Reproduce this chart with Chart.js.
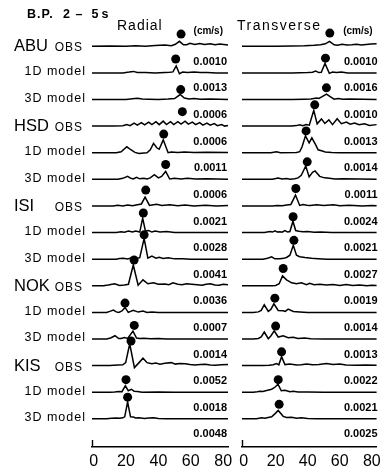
<!DOCTYPE html>
<html>
<head>
<meta charset="utf-8">
<script src="https://cdn.jsdelivr.net/npm/chart.js@4.4.1/dist/chart.umd.min.js"></script>
<style>
  html, body { margin: 0; background: #fff; }
  #wrap { position: relative; width: 386px; height: 470px; }
  #wrap canvas { position: absolute; left: 0; top: 0; }
</style>
</head>
<body>
<div id="wrap">
  <canvas id="radial" width="386" height="470"></canvas>
  <canvas id="transverse" width="386" height="470"></canvas>
</div>
<script>
const stations = ['ABU', 'HSD', 'ISI', 'NOK', 'KIS']
const models = ['OBS', '1D model', '3D model']
const timeTicks = [0, 20, 40, 60, 80]
const ampUnit = '(cm/s)'

// max amplitude printed under each trace
const radialMaxAmp = ['0.0010', '0.0013', '0.0006', '0.0006', '0.0011', '0.0006', '0.0021', '0.0028',
  '0.0041', '0.0036', '0.0007', '0.0014', '0.0052', '0.0018', '0.0048']
const transverseMaxAmp = ['0.0010', '0.0016', '0.0010', '0.0013', '0.0014', '0.0011', '0.0024', '0.0021',
  '0.0027', '0.0019', '0.0014', '0.0013', '0.0022', '0.0021', '0.0025']

// picked arrivals (time s, height above trace)
const radialPickT = [54, 50.7, 53.8, 54.8, 43.3, 44.5, 32.2, 30.7, 31.2, 25, 19.4, 25.1, 23.1, 20, 21]
const radialPickH = [12.3, 14, 10, 14.6, 18.8, 15, 16, 19.8, 24.6, 26, 9.4, 13.7, 24.9, 12.7, 21.9]
const transversePickT = [53.8, 51.1, 51.7, 44.4, 39, 39.7, 32.6, 30.9, 31.4, 24.7, 19.5, 20, 23.7, 21.6, 22.2]
const transversePickH = [13.3, 14.9, 11.8, 21.5, 22, 17.7, 17.6, 16, 19, 17.5, 14.4, 13, 13.9, 12.7, 14.6]

// traces: [time s, amplitude]
const rABUobs = [[-1,0],[10,0.3],[20,0],[26,0.6],[32,0],[38,0.8],[44,1.3],[48,0.6],[50.5,2],[53,5],[55.5,1.5],[57.5,1.5],[59.5,3],[62.5,1.8],[65.5,2.8],[68.5,1.7],[72,2.6],[75,1.5],[78,2.2],[83,1.3]]
const rABU1d = [[-1,0],[18,0],[22,0.8],[24.5,1.5],[27,0.3],[32,0.5],[38,0],[44,0.5],[47,0.7],[49,1],[51,7],[53,-0.8],[55,0.8],[58,0.3],[62,1],[66,0.3],[70,0.5],[76,0],[83,0]]
const rABU3d = [[-1,0],[20,0],[24,0.8],[27,1.3],[30,0.5],[34,0.3],[40,0],[46,0.5],[50,1],[53.5,5],[56,1.5],[59,0.5],[62,1],[66,0.3],[72,0.6],[83,0]]
const rHSDobs = [[-1,0],[12,0],[18,0.3],[20.5,1.5],[22.5,0.5],[25,3],[27,1],[29.5,3.5],[31.5,1.2],[34,4],[36,1.5],[38.5,4.5],[40.5,1.5],[43,5],[45,1.5],[47.5,4.5],[49.5,1.5],[52,4.5],[54,2],[56.5,5],[58.5,2],[61,4],[63,1.5],[65.5,3.5],[67.5,1],[70,3],[72,1],[74.5,2.5],[76.5,0.5],[79,1.5],[81,0],[83,0.5]]
const rHSD1d = [[-1,0],[14,0],[17,1],[20.5,6],[23,3],[25.5,0.3],[28,-0.7],[31,-0.3],[33,0],[35,3],[37,9.5],[39,5],[40.5,3.5],[43,13],[46,0],[48,0.8],[52,0.2],[56,0.8],[62,0.3],[70,0.6],[83,0.3]]
const rHSD3d = [[-1,0],[15,0],[18,1],[21,3],[23,1],[24.5,0.3],[26.5,2],[28.5,0.5],[31,1],[33,0.3],[35,1.5],[37.5,4.7],[40,1.5],[42,3],[44.5,8],[47,0.3],[50,1],[54,0.3],[58,1],[63,0.3],[70,0.5],[83,0]]
const rISIobs = [[-1,0],[12,0],[15,0.8],[18,0],[21,1],[24,0.3],[27,1.2],[29.5,2],[31.8,9],[34.5,0.5],[36,1],[39,1.8],[42,0.5],[47,1.3],[52,0.3],[56.5,1],[62,0],[69,0.8],[76,0],[83,0.5]]
const rISI1d = [[-1,0],[14,0],[17,0.8],[19,0.3],[21.5,1.5],[24,0.5],[26,1.5],[28.5,0.5],[30.3,14.5],[32,1.5],[34,2],[36,0.5],[38,1.5],[41,0.5],[45,1],[50,0],[83,0]]
const rISI3d = [[-1,0],[14,0],[16,0.7],[18.5,1],[21,0.3],[23.5,1.3],[26,0.5],[28.5,1.5],[31.2,21],[33.5,1],[36,3],[38.5,1],[40.5,2],[43,0.8],[46,1.5],[50,0.3],[55,0.5],[60,0],[83,0]]
const rNOKobs = [[-1,0],[6,0],[9,0.7],[13,2],[16,0.3],[19,0.8],[21.5,1.5],[24.5,21],[27.5,0.5],[30.5,6],[33.5,2],[37,3],[40,1.5],[44,1.8],[46.5,1],[49,3],[52,1.5],[54.5,1],[57.5,2],[60.5,1.5],[64,1],[67,0.5],[69.5,1.5],[72,2],[75,0.8],[77.5,0.5],[80,1.5],[83,1]]
const rNOK1d = [[-1,0],[8,0],[10,1],[12.2,2.3],[14,0.5],[15.5,0],[17.5,1.5],[19.4,5],[21.4,0],[24.5,2],[27.5,0.3],[30.5,1.3],[33,0],[36,0.5],[40,0],[83,0]]
const rNOK3d = [[-1,0],[8,0],[10.5,1],[13.2,3.3],[15.5,0.5],[17,0.5],[19,1.5],[21,0.5],[24.3,8],[26.5,1],[28.5,0.5],[31,0.8],[35,0.3],[40,0.5],[45,0],[83,0]]
const rKISobs = [[-1,0],[10,0],[15,0.5],[18,0.8],[19.8,3],[22.3,22],[25.2,-2],[27.5,2],[30.5,7.5],[33,3],[36,2],[38.5,2.5],[41,1.5],[44,2.3],[48,3],[50.5,1.5],[53,2],[56.5,1.8],[59.5,1],[62.5,0.5],[66,1],[69,1.3],[72,0.5],[75,0.3],[79,0.8],[83,1]]
const rKIS1d = [[-1,0],[10,0],[13,0.3],[15.5,0.8],[17.5,0.5],[19.6,6.5],[21.4,1.5],[23.3,3],[25,1],[27,0.8],[30,0],[40,0.3],[50,0],[83,0]]
const rKIS3d = [[-1,0],[8,0],[11,0.5],[14,0.8],[16,0.5],[18,1],[19.2,2],[21,17],[22.8,2],[24.5,1.8],[26,0.8],[28,1.2],[31.5,0.3],[34,0.8],[37,1],[40,0.3],[45,0],[83,0]]

const tABUobs = [[-1,0],[20,0],[30,0.3],[38,0.5],[44,1],[48,1.5],[51,2.5],[53.6,5],[56.5,1.5],[58.5,1],[61.5,2],[64.5,1.2],[67.5,1.5],[70.5,2],[73.5,1.2],[76.5,1.8],[79.5,2.3],[83,2.5]]
const tABU1d = [[-1,0],[30,0],[40,0.3],[43,0.7],[45,1.8],[47,0.3],[48.5,0.5],[50.8,9.5],[53.5,-0.5],[55.5,0.8],[58,0.5],[61,1],[65,0],[83,0]]
const tABU3d = [[-1,0],[30,0],[38,0.3],[42,0.5],[45.5,1.5],[47,1],[48.5,2.5],[51.7,5.5],[54.5,2.5],[56.5,0.3],[59,1],[62,0.2],[66,0.5],[83,0]]
const tHSDobs = [[-1,0],[30,0],[33,0.5],[35,1.3],[37,0.5],[39,1.5],[41,1],[43.8,16],[45.9,2.3],[48.6,7.3],[50.7,2.7],[53.2,6.3],[55.5,1.5],[58.4,7.5],[61,2.5],[64.2,4],[66.5,2],[69.3,3],[72,1.3],[75.5,2.3],[78.5,0.7],[83,1.5]]
const tHSD1d = [[-1,0],[17,0],[20.5,1],[23,0],[33,0.2],[35,1],[36.5,6],[38.6,17],[40.9,10],[42.6,15],[45,8],[46.5,3],[48.6,2],[51,0.8],[55,0.3],[60,0],[83,0]]
const tHSD3d = [[-1,0],[18,0],[21.5,1.3],[24,0.3],[26.8,0.8],[29,0.2],[32,0.5],[34,1.5],[36,4],[38.8,13.5],[40.9,2.5],[43,7],[44.6,8.5],[47.5,3],[50.5,1.5],[53.5,1],[57,0.3],[62,0.5],[83,0]]
const tISIobs = [[-1,0],[18,0],[21,0.5],[24,0.3],[27,1],[29.5,1.5],[32.4,11],[35,0.5],[37,1.5],[39.5,0.8],[41.5,0.5],[45.5,1.3],[50,0.5],[56,1.2],[60,0.3],[66,0.8],[74,0],[80,0.5],[83,0.3]]
const tISI1d = [[-1,0],[13,0],[16.4,1],[18,0.5],[19.6,1.7],[21,0.5],[22.7,0.7],[24,0.3],[25.8,2],[27.5,0.5],[28.9,1],[30.8,11.5],[32.5,2],[34.5,1.3],[37,0.7],[40,1],[44,0.3],[48,0.5],[55,0],[83,0]]
const tISI3d = [[-1,0],[12,0],[15,1],[17.5,2.3],[19.5,0.3],[22.7,0.5],[25,0.8],[26.8,1.7],[28.9,4],[31,14],[33,4],[35,2.5],[38.3,1.7],[42.4,1],[46.5,0.5],[52,0],[83,0]]
const tNOKobs = [[-1,0],[18,0],[20,0.3],[22.2,2],[24.3,10],[26.8,6],[30,3],[33,2],[36.1,3],[39.2,1],[41.3,2.5],[44,1],[47.6,1.5],[51.7,0.7],[55.8,1.3],[60,0.3],[64.1,1.3],[68,0.3],[72.4,0.8],[77,0],[80,0.5],[83,0.3]]
const tNOK1d = [[-1,0],[6,0],[9.2,0.5],[11,2],[12.9,7.7],[15.4,1],[17,3],[18.9,8.7],[21.6,2],[24.7,1.7],[26,1],[27.8,3.3],[31,1],[35,0.5],[40,0],[83,0]]
const tNOK3d = [[-1,0],[6,0],[9.2,0.5],[11,2],[12.9,7],[15.4,0.3],[17,3],[19.1,8.3],[21.6,2],[24.7,3.3],[27.8,1.3],[31,1.7],[34,0.5],[38,1],[42,0.3],[50,0],[83,0]]
const tKISobs = [[-1,0],[12,0],[16,0.3],[18.5,0.8],[20.6,2],[22,0.8],[23.7,9],[25.8,1],[28.9,1.5],[33,0.5],[36,0.8],[39.3,1.5],[43,0.8],[47,1],[51.7,2],[55.8,1],[60,1.5],[64,0.5],[70,0.3],[76,0.5],[83,0.3]]
const tKIS1d = [[-1,0],[6,0],[8.5,0.5],[10.2,1],[12,0.8],[14.4,1.8],[17.5,3],[19.5,5],[21.5,8],[23.5,1.5],[25.8,2],[28.9,0.5],[31,1],[34,0.3],[40,0.3],[50,0],[83,0]]
const tKIS3d = [[-1,0],[8,0],[11.3,1],[13.3,0.5],[16,1.5],[17.5,2],[19.5,5],[21.6,8.5],[24.7,2.5],[26.8,1.3],[30,1.5],[33,0.5],[36,1],[40,0.3],[46,0],[83,0]]

const radialTraces = [rABUobs, rABU1d, rABU3d, rHSDobs, rHSD1d, rHSD3d, rISIobs, rISI1d, rISI3d,
  rNOKobs, rNOK1d, rNOK3d, rKISobs, rKIS1d, rKIS3d]
const transverseTraces = [tABUobs, tABU1d, tABU3d, tHSDobs, tHSD1d, tHSD3d, tISIobs, tISI1d, tISI3d,
  tNOKobs, tNOK1d, tNOK3d, tKISobs, tKIS1d, tKIS3d]

const GAIN = 26.88 // amplitude units per trace spacing
const FONT = '"Liberation Sans", Arial, sans-serif'

function text(ctx, s, x, y, font, align, spacing) {
  const sp = spacing || 0
  ctx.font = font
  ctx.textAlign = align || 'left'
  ctx.textBaseline = 'alphabetic'
  ctx.letterSpacing = sp + 'px'
  ctx.fillText(s, align === 'right' ? x + sp : x, y)
}

function drawBracket(ctx, a) {
  ctx.strokeStyle = '#000'
  ctx.lineWidth = 1.4
  ctx.beginPath()
  ctx.moveTo(a.left + 0.5, a.bottom)
  ctx.lineTo(a.left + 0.5, a.bottom - 6.5)
  ctx.stroke()
}

function ampLabels(ctx, y, right, labels, unitRight) {
  text(ctx, ampUnit, unitRight, y.getPixelForValue(0) - 12, 'bold 10px ' + FONT, 'right')
  labels.forEach((s, k) => {
    text(ctx, s, right, y.getPixelForValue(k + 1) - 8, 'bold 11px ' + FONT, 'right')
  })
}

const radialText = {
  id: 'radialText',
  afterDraw(chart) {
    const { ctx, chartArea: a, scales: { y } } = chart
    ctx.save()
    ctx.fillStyle = '#000'
    const tf = 'bold 12.5px ' + FONT
    text(ctx, 'B.P.', 27, 17.5, tf, 'left', 1)
    text(ctx, '2', 63, 17.5, tf)
    text(ctx, '–', 75.5, 17.5, tf)
    text(ctx, '5', 91.5, 17.5, tf)
    text(ctx, 's', 101.5, 17.5, tf)
    text(ctx, 'Radial', 117, 30, '14px ' + FONT, 'left', 1)
    stations.forEach((s, i) => {
      models.forEach((m, j) => {
        const py = y.getPixelForValue(i * 3 + j)
        if (j === 0) {
          text(ctx, s, 14, py + 5, '16.5px ' + FONT)
          text(ctx, m, 82, py + 5, '12px ' + FONT, 'right', 1)
        } else {
          text(ctx, m, 85, py + 2.5, '12.5px ' + FONT, 'right', 1)
        }
      })
    })
    ampLabels(ctx, y, a.right - 1, radialMaxAmp, a.right - 5)
    drawBracket(ctx, a)
    ctx.restore()
  }
}

const transverseText = {
  id: 'transverseText',
  afterDraw(chart) {
    const { ctx, chartArea: a, scales: { y } } = chart
    ctx.save()
    ctx.fillStyle = '#000'
    text(ctx, 'Transverse', 237, 29.5, '14px ' + FONT, 'left', 1.5)
    ampLabels(ctx, y, a.right + 1, transverseMaxAmp, a.right - 4)
    drawBracket(ctx, a)
    ctx.restore()
  }
}

function seismoChart(id, traces, pickT, pickH, padLeft, padRight, plugin) {
  const datasets = traces.map((tr, k) => ({
    data: tr.map(([t, amp]) => ({ x: t, y: k - amp / GAIN })),
    showLine: true,
    borderColor: '#000',
    borderWidth: 1.5,
    pointRadius: 0,
    tension: 0,
    clip: false
  }))
  datasets.push({
    data: pickT.map((t, k) => ({ x: t, y: k - pickH[k] / GAIN })),
    pointRadius: 4.5,
    backgroundColor: '#000',
    borderWidth: 0,
    clip: false
  })
  return new Chart(document.getElementById(id), {
    type: 'scatter',
    data: { datasets },
    options: {
      responsive: false,
      animation: false,
      devicePixelRatio: 1,
      events: [],
      layout: { padding: { left: padLeft, right: padRight, top: 0, bottom: 0 } },
      plugins: { legend: { display: false }, tooltip: { enabled: false } },
      scales: {
        x: {
          type: 'linear', min: -1, max: 83,
          grid: { display: false, drawTicks: false },
          border: { display: true, color: '#000', width: 1.4 },
          afterBuildTicks: s => { s.ticks = timeTicks.map(v => ({ value: v })) },
          afterFit: s => { s.height = 23.5 },
          ticks: { color: '#000', padding: 5, maxRotation: 0, autoSkip: false, font: { family: FONT, size: 16 } }
        },
        y: { type: 'linear', display: false, reverse: true, min: -1.57, max: 15.04 }
      }
    },
    plugins: [plugin]
  })
}

seismoChart('radial', radialTraces, radialPickT, radialPickH, 92, 158, radialText)
seismoChart('transverse', transverseTraces, transversePickT, transversePickH, 242, 9, transverseText)
</script>
</body>
</html>
